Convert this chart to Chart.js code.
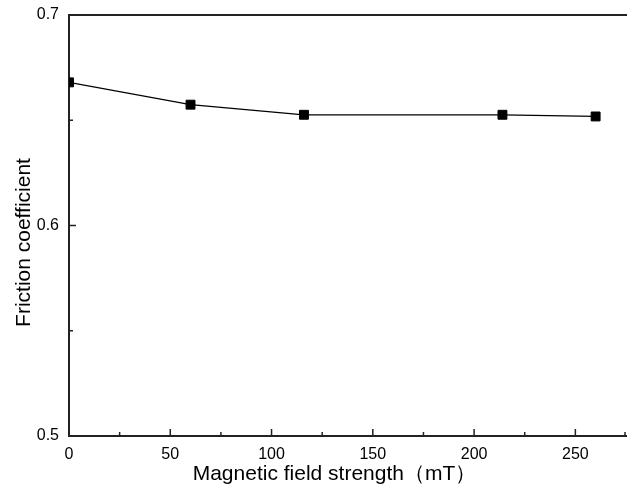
<!DOCTYPE html>
<html>
<head>
<meta charset="utf-8">
<script src="https://cdn.jsdelivr.net/npm/chart.js@4"></script>
<style>
  html, body { margin: 0; padding: 0; background: #fff; }
  #wrap { width: 627px; height: 485px; }
</style>
</head>
<body>
<div id="wrap"><canvas id="friction_chart" width="627" height="485"></canvas></div>
<script>
// values
var field_mT = [0, 60, 116, 214, 260];
var friction = [0.668, 0.6574, 0.6526, 0.6526, 0.6518];

var x_major = [0, 50, 100, 150, 200, 250];
var x_minor = [25, 75, 125, 175, 225, 275];
var y_major = [0.5, 0.6, 0.7];
var y_minor = [0.55, 0.65];

var x_title = "Magnetic field strength（mT）";
var y_title = "Friction coefficient";

var AXIS_COLOR = "#222";
var FONT = "'Liberation Sans', Arial, sans-serif";

//***************************************************************************** */
// inward tick marks, top frame line and axis titles
var framePlugin = {
    id: "frame",
    afterDatasetsDraw(chart){
        let ctx = chart.ctx;
        let a = chart.chartArea;
        let xs = chart.scales.x;
        let ys = chart.scales.y;
        ctx.save();
        ctx.strokeStyle = AXIS_COLOR;
        ctx.lineWidth = 2;
        ctx.beginPath();
        ctx.moveTo(a.left - 1, a.top);
        ctx.lineTo(a.right + 1, a.top);
        ctx.stroke();

        ctx.lineWidth = 1.5;
        ctx.beginPath();
        for(let i=0;i<x_major.length;i++){
            let px = xs.getPixelForValue(x_major[i]);
            ctx.moveTo(px, a.bottom);
            ctx.lineTo(px, a.bottom - 7);
        }
        for(let i=0;i<x_minor.length;i++){
            let px = Math.min(xs.getPixelForValue(x_minor[i]), a.right - 1);
            ctx.moveTo(px, a.bottom);
            ctx.lineTo(px, a.bottom - 4);
        }
        for(let i=0;i<y_major.length;i++){
            let py = ys.getPixelForValue(y_major[i]);
            ctx.moveTo(a.left, py);
            ctx.lineTo(a.left + 7, py);
        }
        for(let i=0;i<y_minor.length;i++){
            let py = ys.getPixelForValue(y_minor[i]);
            ctx.moveTo(a.left, py);
            ctx.lineTo(a.left + 4, py);
        }
        ctx.stroke();

        ctx.fillStyle = "#000";
        ctx.font = "21px " + FONT;
        ctx.textAlign = "center";
        ctx.textBaseline = "alphabetic";
        ctx.fillText(x_title, 334.5, 480);

        ctx.translate(30, 242.5);
        ctx.rotate(-Math.PI/2);
        ctx.fillText(y_title, 0, 0);
        ctx.restore();
    }
};

//***************************************************************************** */
new Chart("friction_chart", {
    type: "line",
    data: {
        datasets: [{
            label: "friction",
            data: field_mT.map((v,i)=>({x:v, y:friction[i]})),
            borderColor: "#000",
            borderWidth: 1.3,
            backgroundColor: "#000",
            pointStyle: "rect",
            pointRadius: 6.3,
            pointBorderWidth: 1,
            pointHoverRadius: 6.3,
            tension: 0,
            clip: 0,
        }],
    },
    options: {
        responsive: false,
        animation: false,
        layout: { autoPadding: false, padding: { top: 15, right: 1, left: 0, bottom: 0 } },
        scales: {
            x: {
                type: "linear",
                min: 0,
                max: 275,
                afterBuildTicks(s){ s.ticks = x_major.map(v=>({value:v})); },
                afterFit(s){ s.height = 49; s.paddingLeft = 0; s.paddingRight = 0; },
                grid: { display: false, drawTicks: false },
                border: { display: true, color: AXIS_COLOR, width: 2 },
                ticks: { padding: 9, color: "#000", font: { family: FONT, size: 16 } },
            },
            y: {
                type: "linear",
                min: 0.5,
                max: 0.7,
                afterBuildTicks(s){ s.ticks = y_major.map(v=>({value:v})); },
                afterFit(s){ s.width = 69; s.paddingTop = 0; s.paddingBottom = 0; },
                grid: { display: false, drawTicks: false },
                border: { display: true, color: AXIS_COLOR, width: 2 },
                ticks: { padding: 10, color: "#000", font: { family: FONT, size: 16 },
                         callback: v => v.toFixed(1) },
            },
        },
        plugins: { legend: { display: false }, tooltip: { enabled: false } },
    },
    plugins: [framePlugin],
});
</script>
</body>
</html>
